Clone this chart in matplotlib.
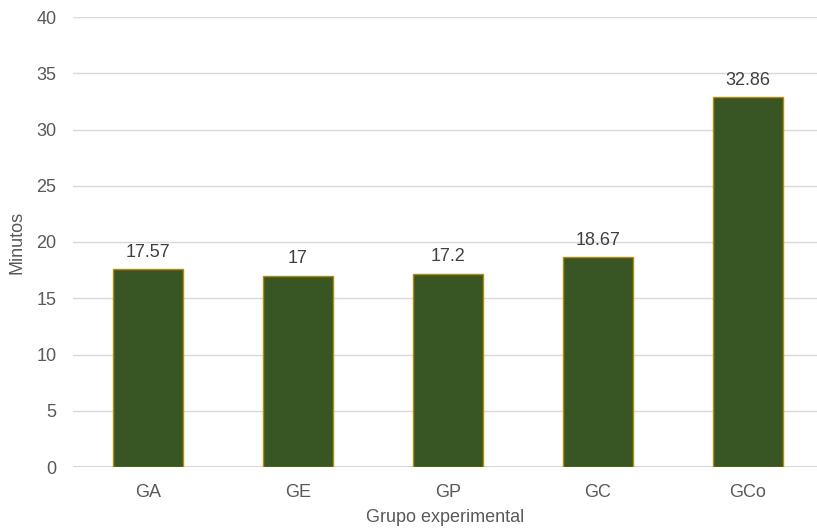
import matplotlib
matplotlib.use("Agg")
import matplotlib.pyplot as plt

grupos = ["GA", "GE", "GP", "GC", "GCo"]
minutos = [17.57, 17, 17.2, 18.67, 32.86]
etiquetas = ["17.57", "17", "17.2", "18.67", "32.86"]
yticks = [0, 5, 10, 15, 20, 25, 30, 35, 40]

plt.rcParams["font.family"] = ["Liberation Sans", "DejaVu Sans"]
gris = "#595959"

W, H = 817, 528
fig = plt.figure(figsize=(W / 100, H / 100), dpi=100)
# axes in pixel terms: left 73, right 817, top 17, bottom 467
ax = fig.add_axes([73 / W, 1 - 467 / H, (817 - 73) / W, (467 - 17) / H])

x = list(range(len(grupos)))
bars = ax.bar(x, minutos, width=0.467, color="#375623", edgecolor="#b38f00",
              linewidth=1.0, zorder=3)
for b, txt in zip(bars, etiquetas):
    ax.annotate(txt, (b.get_x() + b.get_width() / 2, b.get_height()),
                xytext=(0, 6), textcoords="offset points", ha="center",
                va="bottom", fontsize=13, color="#404040")

ax.set_xlim(-0.5, 4.46)
ax.set_ylim(0, 40)
ax.set_yticks(yticks)
ax.set_xticks(x)
ax.set_xticklabels(grupos)
ax.yaxis.grid(True, color="#d9d9d9", linewidth=1, zorder=0)
ax.axhline(0, color="#d0d0d0", linewidth=1.2, zorder=2)
for s in ax.spines.values():
    s.set_visible(False)
ax.tick_params(axis="both", length=0, labelsize=13, colors=gris)
ax.tick_params(axis="y", pad=12)
ax.tick_params(axis="x", pad=12)
ax.set_xlabel("Grupo experimental", fontsize=13, color=gris, labelpad=6)
ax.set_ylabel("Minutos", fontsize=13, color=gris, labelpad=8)

fig.savefig("out.png", dpi=100)
